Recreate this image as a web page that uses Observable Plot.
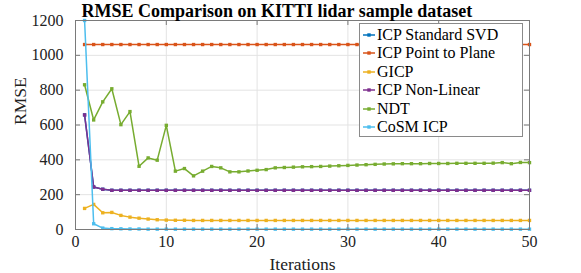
<!DOCTYPE html>
<html><head><meta charset="utf-8">
<script src="https://cdn.jsdelivr.net/npm/d3@7"></script>
<script src="https://cdn.jsdelivr.net/npm/@observablehq/plot@0.6"></script>
<style>
body{margin:0;background:#fff;}
#wrap{position:relative;width:581px;height:273px;font-family:"Liberation Serif",serif;}
#wrap svg text{font-family:"Liberation Serif",serif;}
#legend{position:absolute;left:359px;top:23px;width:162px;height:112px;border:1px solid #8a8a8a;background:#fff;}
.row{position:absolute;left:3px;height:18px;display:flex;align-items:center;font-size:16px;color:#000;white-space:nowrap;line-height:18px;}
.row svg{margin-right:2px;}
</style></head><body><div id="wrap"></div>
<script>
const iterations = [1,2,3,4,5,6,7,8,9,10,11,12,13,14,15,16,17,18,19,20,21,22,23,24,25,26,27,28,29,30,31,32,33,34,35,36,37,38,39,40,41,42,43,44,45,46,47,48,49,50];
const seriesNames = ["ICP Standard SVD","ICP Point to Plane","GICP","ICP Non-Linear","NDT","CoSM ICP"];
const seriesColors = ["#0072BD","#D95319","#EDB120","#7E2F8E","#77AC30","#4DBEEE"];
const svd = [658,244,231,225,225,225,225,225,225,225,225,225,225,225,225,225,225,225,225,225,225,225,225,225,225,225,225,225,225,225,225,225,225,225,225,225,225,225,225,225,225,225,225,225,225,225,225,225,225,225];
const pointToPlane = [1062,1062,1062,1062,1062,1062,1062,1062,1062,1062,1062,1062,1062,1062,1062,1062,1062,1062,1062,1062,1062,1062,1062,1062,1062,1062,1062,1062,1062,1062,1062,1062,1062,1062,1062,1062,1062,1062,1062,1062,1062,1062,1062,1062,1062,1062,1062,1062,1062,1062];
const gicp = [121,144,96,98,81,71,65,60,56,54,53,53,52,52,52,52,52,52,52,52,52,52,52,52,52,52,52,52,52,52,52,52,52,52,52,52,52,52,52,52,52,52,52,52,52,52,52,52,52,52];
const nonLinear = [658,244,231,225,225,225,225,225,225,225,225,225,225,225,225,225,225,225,225,225,225,225,225,225,225,225,225,225,225,225,225,225,225,225,225,225,225,225,225,225,225,225,225,225,225,225,225,225,225,225];
const ndt = [831,629,733,808,602,677,363,411,398,598,335,350,308,335,362,354,331,331,336,340,344,354,356,358,360,361,362,364,366,368,370,372,374,376,377,378,378,378,379,379,379,380,380,380,380,381,384,378,385,384];
const cosm = [1200,33,8,5,4,3,3,2,2,2,2,2,2,2,2,2,2,2,2,2,2,2,2,2,2,2,2,2,2,2,2,2,2,2,2,2,2,2,2,2,2,2,2,2,2,2,2,2,2,2];
const xTicks = [0,10,20,30,40,50];
const yTicks = [0,200,400,600,800,1000,1200];
const titleText = "RMSE Comparison on KITTI lidar sample dataset";
const xLabel = "Iterations";
const yLabel = "RMSE";

const seriesValues = [svd, pointToPlane, gicp, nonLinear, ndt, cosm];
const seriesRows = seriesValues.map((vals, k) => vals.map((v, i) => ({series: seriesNames[k], it: iterations[i], rmse: v})));

const W = 581, H = 273, mL = 75, mR = 52, mT = 20, mB = 44;
const fw = W - mL - mR, fh = H - mT - mB;
const axisColor = "#7a7a7a";
const serif = "'Liberation Serif', serif";

const marks = [
  Plot.gridX(xTicks, {stroke: "#e3e3e3", strokeOpacity: 1}),
  Plot.gridY(yTicks, {stroke: "#e3e3e3", strokeOpacity: 1}),
];
seriesRows.forEach(rows => {
  marks.push(Plot.line(rows, {x: "it", y: "rmse", stroke: "series", strokeWidth: 1.5}));
  marks.push(Plot.dot(rows, {x: "it", y: "rmse", fill: "series", symbol: "square", r: 1.9}));
});
marks.push(
  Plot.tickY(yTicks, {y: d => d, stroke: axisColor, insetRight: fw - 5}),
  Plot.tickY(yTicks, {y: d => d, stroke: axisColor, insetLeft: fw - 5}),
  Plot.tickX(xTicks, {x: d => d, stroke: axisColor, insetTop: fh - 5}),
  Plot.tickX(xTicks, {x: d => d, stroke: axisColor, insetBottom: fh - 5}),
  Plot.frame({stroke: axisColor}),
  Plot.axisX(xTicks, {tickSize: 0, tickPadding: 6, fontSize: 16, fontFamily: serif, label: null, fill: "#222", tickFormat: d => String(d)}),
  Plot.axisY(yTicks, {tickSize: 0, tickPadding: 12, fontSize: 16, fontFamily: serif, label: null, fill: "#222", tickFormat: d => String(d)}),
  Plot.text([titleText], {frameAnchor: "top-left", text: d => d, textAnchor: "start", lineAnchor: "bottom", dx: 6, dy: -4, fontSize: 18, fontWeight: "bold", fontFamily: serif, fill: "#000"}),
  Plot.text([xLabel], {frameAnchor: "bottom", text: d => d, lineAnchor: "middle", dy: 35, fontSize: 17.5, fontFamily: serif, fill: "#222"}),
  Plot.text([yLabel], {frameAnchor: "left", text: d => d, lineAnchor: "middle", rotate: -90, dx: -55, fontSize: 17.5, fontFamily: serif, fill: "#222"})
);

const chart = Plot.plot({
  width: W, height: H,
  marginLeft: mL, marginRight: mR, marginTop: mT, marginBottom: mB,
  style: {fontFamily: serif, background: "#fff", overflow: "visible"},
  x: {domain: [0, 50], axis: null},
  y: {domain: [0, 1200], axis: null},
  color: {domain: seriesNames, range: seriesColors},
  marks
});
const wrap = document.getElementById("wrap");
wrap.appendChild(chart);

const legend = document.createElement("div");
legend.id = "legend";
seriesNames.forEach((name, k) => {
  const row = document.createElement("div");
  row.className = "row";
  row.style.top = (2 + k * 18.4) + "px";
  const c = seriesColors[k];
  row.innerHTML = `<svg width="12" height="8"><line x1="0" y1="4" x2="12" y2="4" stroke="${c}" stroke-width="1.5"/><rect x="4.3" y="2.3" width="3.4" height="3.4" fill="${c}"/></svg><span>${name}</span>`;
  legend.appendChild(row);
});
wrap.appendChild(legend);
</script></body></html>
